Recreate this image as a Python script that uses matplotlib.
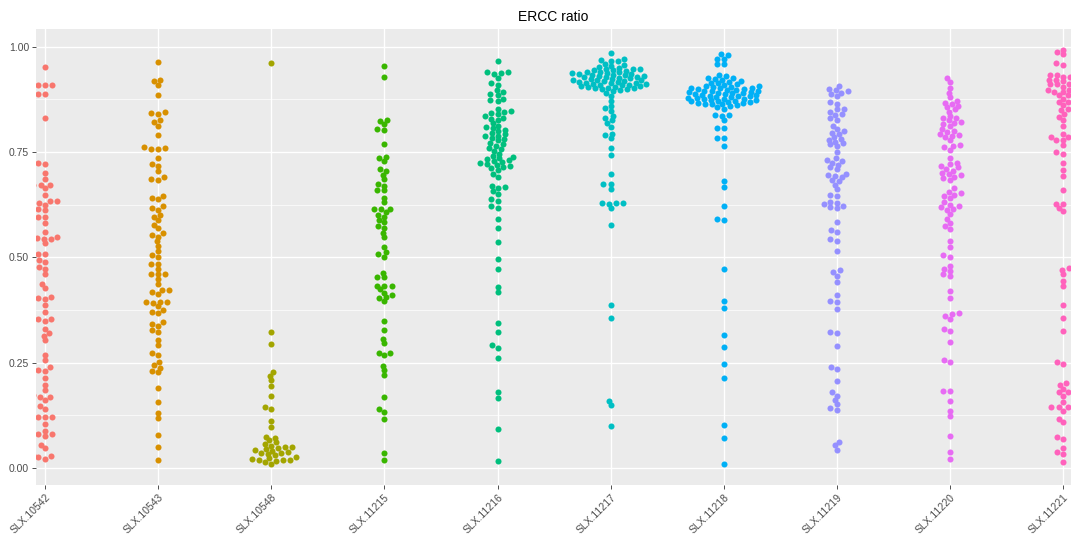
import numpy as np
import matplotlib
matplotlib.use("Agg")
import matplotlib.pyplot as plt
from matplotlib.ticker import MultipleLocator

categories = ["SLX.10542", "SLX.10543", "SLX.10548", "SLX.11215", "SLX.11216",
              "SLX.11217", "SLX.11218", "SLX.11219", "SLX.11220", "SLX.11221"]
colors = ["#F8766D", "#D89000", "#A3A500", "#39B600", "#00BF7D",
          "#00BFC4", "#00B0F6", "#9590FF", "#E76BF3", "#FF62BC"]

g_10542 = [0.951, 0.910, 0.910, 0.910, 0.887, 0.887, 0.830, 0.725, 0.721, 0.700,
           0.686, 0.672, 0.672, 0.672, 0.664, 0.647, 0.635, 0.633, 0.630, 0.625,
           0.615, 0.613, 0.597, 0.596, 0.582, 0.560, 0.548, 0.546, 0.544, 0.544,
           0.534, 0.507, 0.507, 0.495, 0.489, 0.478, 0.473, 0.461, 0.437, 0.428,
           0.407, 0.404, 0.402, 0.388, 0.371, 0.355, 0.353, 0.349, 0.329, 0.320,
           0.314, 0.304, 0.269, 0.256, 0.239, 0.233, 0.231, 0.213, 0.197, 0.186,
           0.173, 0.169, 0.169, 0.162, 0.147, 0.140, 0.122, 0.122, 0.121, 0.105,
           0.087, 0.080, 0.080, 0.076, 0.055, 0.047, 0.032, 0.028, 0.026, 0.022]
g_10543 = [0.964, 0.922, 0.918, 0.910, 0.886, 0.845, 0.843, 0.841, 0.826, 0.821,
           0.813, 0.791, 0.761, 0.759, 0.757, 0.757, 0.735, 0.722, 0.718, 0.704,
           0.690, 0.686, 0.684, 0.646, 0.642, 0.638, 0.621, 0.617, 0.613, 0.601,
           0.597, 0.589, 0.577, 0.569, 0.557, 0.553, 0.549, 0.538, 0.528, 0.516,
           0.506, 0.502, 0.485, 0.484, 0.472, 0.461, 0.461, 0.461, 0.449, 0.438,
           0.422, 0.422, 0.417, 0.413, 0.395, 0.395, 0.395, 0.391, 0.384, 0.375,
           0.371, 0.367, 0.346, 0.342, 0.338, 0.328, 0.324, 0.304, 0.292, 0.273,
           0.269, 0.252, 0.244, 0.237, 0.231, 0.227, 0.189, 0.158, 0.132, 0.120,
           0.078, 0.049, 0.020]
g_10548 = [0.962, 0.322, 0.295, 0.227, 0.218, 0.208, 0.195, 0.170, 0.144, 0.140,
           0.112, 0.097, 0.075, 0.072, 0.066, 0.061, 0.057, 0.053, 0.050, 0.049,
           0.048, 0.046, 0.043, 0.041, 0.038, 0.037, 0.035, 0.033, 0.030, 0.026,
           0.023, 0.021, 0.020, 0.020, 0.019, 0.018, 0.015, 0.010]
g_11215 = [0.954, 0.929, 0.827, 0.824, 0.816, 0.805, 0.803, 0.770, 0.739, 0.735,
           0.729, 0.710, 0.705, 0.696, 0.686, 0.674, 0.670, 0.659, 0.659, 0.642,
           0.631, 0.615, 0.615, 0.615, 0.607, 0.601, 0.597, 0.589, 0.583, 0.574,
           0.570, 0.558, 0.548, 0.525, 0.512, 0.507, 0.502, 0.463, 0.453, 0.453,
           0.433, 0.433, 0.433, 0.424, 0.416, 0.411, 0.406, 0.403, 0.396, 0.348,
           0.327, 0.306, 0.296, 0.274, 0.274, 0.268, 0.243, 0.233, 0.220, 0.168,
           0.140, 0.134, 0.117, 0.035, 0.020]
g_11216 = [0.967, 0.941, 0.939, 0.937, 0.935, 0.926, 0.914, 0.909, 0.898, 0.892,
           0.887, 0.885, 0.877, 0.873, 0.871, 0.851, 0.848, 0.845, 0.843, 0.840,
           0.835, 0.832, 0.829, 0.826, 0.818, 0.812, 0.809, 0.806, 0.803, 0.800,
           0.795, 0.792, 0.789, 0.787, 0.784, 0.781, 0.778, 0.771, 0.768, 0.765,
           0.760, 0.757, 0.753, 0.746, 0.741, 0.738, 0.735, 0.733, 0.730, 0.728,
           0.726, 0.723, 0.721, 0.719, 0.717, 0.714, 0.712, 0.708, 0.698, 0.690,
           0.670, 0.667, 0.665, 0.658, 0.650, 0.638, 0.633, 0.621, 0.618, 0.590,
           0.570, 0.536, 0.496, 0.473, 0.429, 0.417, 0.345, 0.324, 0.292, 0.286,
           0.262, 0.180, 0.166, 0.094, 0.017]
g_11217 = [0.986, 0.972, 0.969, 0.967, 0.966, 0.960, 0.957, 0.955, 0.953, 0.950,
           0.948, 0.947, 0.946, 0.945, 0.944, 0.943, 0.941, 0.940, 0.939, 0.938,
           0.937, 0.936, 0.935, 0.934, 0.933, 0.932, 0.931, 0.930, 0.929, 0.928,
           0.927, 0.926, 0.925, 0.924, 0.923, 0.922, 0.921, 0.920, 0.919, 0.918,
           0.917, 0.916, 0.915, 0.914, 0.913, 0.912, 0.911, 0.910, 0.909, 0.908,
           0.907, 0.906, 0.905, 0.904, 0.903, 0.902, 0.901, 0.900, 0.899, 0.897,
           0.895, 0.891, 0.883, 0.871, 0.860, 0.854, 0.848, 0.836, 0.830, 0.826,
           0.818, 0.809, 0.794, 0.790, 0.784, 0.759, 0.743, 0.697, 0.675, 0.675,
           0.662, 0.630, 0.630, 0.630, 0.627, 0.617, 0.578, 0.388, 0.356, 0.160,
           0.150, 0.101]
g_11218 = [0.983, 0.980, 0.972, 0.972, 0.960, 0.960, 0.932, 0.930, 0.926, 0.925,
           0.923, 0.921, 0.919, 0.917, 0.915, 0.913, 0.911, 0.909, 0.907, 0.906,
           0.905, 0.904, 0.903, 0.902, 0.901, 0.900, 0.899, 0.898, 0.897, 0.896,
           0.895, 0.894, 0.893, 0.892, 0.891, 0.890, 0.889, 0.888, 0.887, 0.886,
           0.885, 0.884, 0.883, 0.882, 0.881, 0.880, 0.879, 0.878, 0.877, 0.876,
           0.875, 0.874, 0.873, 0.872, 0.871, 0.870, 0.869, 0.868, 0.867, 0.866,
           0.865, 0.864, 0.863, 0.861, 0.859, 0.856, 0.853, 0.839, 0.839, 0.836,
           0.826, 0.806, 0.806, 0.784, 0.784, 0.764, 0.681, 0.668, 0.623, 0.590,
           0.588, 0.473, 0.397, 0.380, 0.317, 0.288, 0.246, 0.214, 0.103, 0.071,
           0.010]
g_11219 = [0.906, 0.900, 0.897, 0.894, 0.890, 0.887, 0.882, 0.869, 0.865, 0.853,
           0.851, 0.844, 0.840, 0.837, 0.830, 0.827, 0.813, 0.804, 0.800, 0.795,
           0.792, 0.785, 0.781, 0.778, 0.775, 0.771, 0.768, 0.765, 0.749, 0.735,
           0.732, 0.729, 0.725, 0.720, 0.714, 0.710, 0.699, 0.696, 0.693, 0.690,
           0.684, 0.681, 0.672, 0.662, 0.649, 0.645, 0.632, 0.629, 0.626, 0.623,
           0.620, 0.617, 0.584, 0.566, 0.560, 0.544, 0.540, 0.516, 0.471, 0.466,
           0.457, 0.441, 0.412, 0.396, 0.394, 0.378, 0.323, 0.320, 0.290, 0.241,
           0.236, 0.206, 0.180, 0.172, 0.162, 0.152, 0.143, 0.139, 0.063, 0.054,
           0.044]
g_11220 = [0.926, 0.917, 0.903, 0.891, 0.881, 0.871, 0.867, 0.864, 0.860, 0.856,
           0.851, 0.846, 0.836, 0.832, 0.830, 0.826, 0.822, 0.820, 0.816, 0.812,
           0.804, 0.800, 0.797, 0.794, 0.791, 0.789, 0.786, 0.779, 0.767, 0.765,
           0.761, 0.756, 0.737, 0.725, 0.721, 0.717, 0.714, 0.710, 0.706, 0.700,
           0.698, 0.695, 0.692, 0.688, 0.684, 0.664, 0.656, 0.652, 0.649, 0.646,
           0.641, 0.631, 0.625, 0.621, 0.619, 0.615, 0.612, 0.603, 0.591, 0.582,
           0.574, 0.567, 0.540, 0.525, 0.505, 0.501, 0.479, 0.473, 0.468, 0.461,
           0.457, 0.421, 0.404, 0.369, 0.365, 0.361, 0.353, 0.331, 0.325, 0.299,
           0.257, 0.252, 0.184, 0.182, 0.160, 0.136, 0.123, 0.077, 0.039, 0.022]
g_11221 = [0.993, 0.987, 0.982, 0.961, 0.957, 0.934, 0.934, 0.934, 0.929, 0.929,
           0.922, 0.922, 0.918, 0.918, 0.911, 0.911, 0.911, 0.905, 0.898, 0.898,
           0.898, 0.893, 0.893, 0.885, 0.885, 0.877, 0.869, 0.869, 0.861, 0.853,
           0.849, 0.840, 0.834, 0.826, 0.812, 0.794, 0.786, 0.786, 0.779, 0.779,
           0.767, 0.749, 0.746, 0.724, 0.708, 0.693, 0.660, 0.627, 0.627, 0.617,
           0.609, 0.474, 0.471, 0.461, 0.444, 0.432, 0.388, 0.357, 0.325, 0.253,
           0.247, 0.203, 0.197, 0.188, 0.180, 0.180, 0.172, 0.156, 0.144, 0.144,
           0.144, 0.136, 0.117, 0.109, 0.073, 0.068, 0.047, 0.039, 0.034, 0.014]

groups = [g_10542, g_10543, g_10548, g_11215, g_11216,
          g_11217, g_11218, g_11219, g_11220, g_11221]

W, H, DPI = 1071, 536, 100
fig = plt.figure(figsize=(W / DPI, H / DPI), dpi=DPI)
ax = fig.add_axes([36 / W, 1 - 485 / H, 1 - 36 / W, (485 - 29) / H])
XLIM = (-0.08, 9.07)
YLIM = (-0.04, 1.042)
ax.set_xlim(*XLIM)
ax.set_ylim(*YLIM)

ax_w_px = W * (1 - 36 / W)
ax_h_px = 485 - 29
px_per_x = ax_w_px / (XLIM[1] - XLIM[0])
px_per_y = ax_h_px / (YLIM[1] - YLIM[0])


def swarm(ys, dx_s, dy_s):
    # elliptical collision: (dx/dx_s)^2 + (dy/dy_s)^2 >= 1
    ys_px = np.asarray(ys) * px_per_y
    order = np.argsort(ys_px, kind="stable")
    px_list, py_list = [], []
    out = np.zeros(len(ys_px))
    for i in order:
        y = ys_px[i]
        cands = [0.0]
        for px, py in zip(px_list, py_list):
            dy = abs(py - y)
            if dy < dy_s:
                dx = dx_s * np.sqrt(1 - (dy / dy_s) ** 2)
                cands += [px + dx, px - dx]
        cands.sort(key=lambda c: (abs(c), c))
        chosen = 0.0
        for c in cands:
            if all(((c - px) / dx_s) ** 2 + ((y - py) / dy_s) ** 2 >= 1 - 1e-6
                   for px, py in zip(px_list, py_list)):
                chosen = c
                break
        out[i] = chosen
        px_list.append(chosen)
        py_list.append(y)
    return out / px_per_x


ax.set_facecolor("#EBEBEB")
for s in ax.spines.values():
    s.set_visible(False)
ax.yaxis.set_major_locator(MultipleLocator(0.25))
ax.yaxis.set_minor_locator(MultipleLocator(0.125))
ax.set_xticks(range(len(categories)))
ax.grid(True, which="major", color="white", linewidth=1.0)
ax.grid(True, which="minor", axis="y", color="white", linewidth=0.5)
ax.set_axisbelow(True)
ax.tick_params(axis="y", which="minor", length=0)

for k, (vals, col) in enumerate(zip(groups, colors)):
    offs = swarm(vals, 7.2, 4.3)
    ax.scatter(k + offs, vals, s=19, color=col, linewidths=0, zorder=3)

ax.set_yticklabels([f"{v:.2f}" for v in ax.get_yticks()], family="Liberation Sans",
                   fontsize=7.5, color="#4D4D4D")
ax.set_ylim(*YLIM)
ax.set_xticklabels(categories, rotation=45, ha="right", va="top",
                   rotation_mode="anchor", family="Liberation Sans",
                   fontsize=7.5, color="#4D4D4D")
ax.tick_params(axis="both", which="major", length=3, width=0.6, color="#333333", pad=2)
ax.set_title("ERCC ratio", family="Liberation Sans", fontsize=10, pad=6)

fig.savefig("out.png", dpi=DPI)
